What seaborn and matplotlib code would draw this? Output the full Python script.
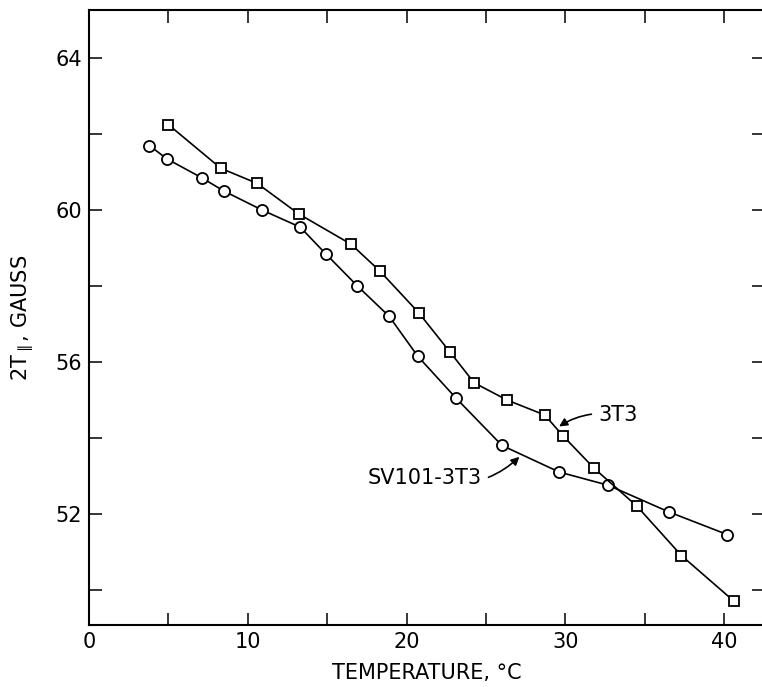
# Spin label splitting vs temperature, 3T3 and SV101-3T3 cells

import matplotlib.pyplot as plt
import seaborn as sns
import pandas as pd
from matplotlib.ticker import MultipleLocator

sns.set_style("ticks", {'axes.edgecolor': 'black', 'text.color': 'black',
                        'axes.labelcolor': 'black', 'xtick.color': 'black',
                        'ytick.color': 'black'})
plt.rcParams['font.family'] = ['DejaVu Sans']

# SV101-3T3 (circles)
sv_temp = [3.8, 4.9, 7.1, 8.5, 10.9, 13.3, 14.9, 16.9, 18.9, 20.7,
           23.1, 26.0, 29.6, 32.7, 36.5, 40.2]
sv_split = [61.7, 61.35, 60.85, 60.5, 60.0, 59.55, 58.85, 58.0, 57.2, 56.15,
            55.05, 53.8, 53.1, 52.75, 52.05, 51.45]

# 3T3 (squares)
t3_temp = [5.0, 8.3, 10.6, 13.2, 16.5, 18.3, 20.75, 22.75, 24.25, 26.3,
           28.7, 29.85, 31.8, 34.5, 37.3, 40.6]
t3_split = [62.25, 61.1, 60.7, 59.9, 59.1, 58.4, 57.3, 56.25, 55.45, 55.0,
            54.6, 54.05, 53.2, 52.2, 50.9, 49.7]

x_ticks = [0, 10, 20, 30, 40]
y_ticks = [52, 56, 60, 64]


def plot():
    sv = pd.DataFrame({'Temperature': sv_temp, 'Splitting': sv_split})
    t3 = pd.DataFrame({'Temperature': t3_temp, 'Splitting': t3_split})

    fig = plt.figure(figsize=(7.62, 6.87), dpi=100)
    ax = fig.add_axes([89 / 762, 1 - 625 / 687, 675 / 762, 615 / 687])

    sns.lineplot(data=sv, x='Temperature', y='Splitting', ax=ax, estimator=None,
                 sort=False, color='black', linewidth=1.2, marker='o',
                 markersize=8, markerfacecolor='white', markeredgecolor='black',
                 markeredgewidth=1.3)
    sns.lineplot(data=t3, x='Temperature', y='Splitting', ax=ax, estimator=None,
                 sort=False, color='black', linewidth=1.2, marker='s',
                 markersize=7.5, markerfacecolor='white', markeredgecolor='black',
                 markeredgewidth=1.3)

    ax.set_xlim(0, 42.5)
    ax.set_ylim(49.07, 65.27)
    ax.set_xticks(x_ticks)
    ax.set_yticks(y_ticks)
    ax.xaxis.set_minor_locator(MultipleLocator(5))
    ax.yaxis.set_minor_locator(MultipleLocator(2))
    ax.tick_params(which='both', direction='in', length=9, width=1.1,
                   top=True, right=True, labelsize=15, pad=5, colors='black')

    for spine in ax.spines.values():
        spine.set_linewidth(1.5)
        spine.set_color('black')

    ax.set_xlabel("TEMPERATURE, °C", fontsize=15, labelpad=8, color='black')
    ax.set_ylabel("2T$_{\\parallel}$, GAUSS", fontsize=15, labelpad=14, color='black')

    # curved arrow labels
    ax.annotate("3T3", xy=(29.6, 54.3), xytext=(32.1, 54.6), fontsize=15,
                ha='left', va='center', color='black',
                arrowprops=dict(arrowstyle='-|>', color='black', lw=1.2,
                                mutation_scale=12, shrinkA=3, shrinkB=0,
                                connectionstyle='arc3,rad=0.2'))
    ax.annotate("SV101-3T3", xy=(27.1, 53.5), xytext=(24.7, 52.95), fontsize=15,
                ha='right', va='center', color='black',
                arrowprops=dict(arrowstyle='-|>', color='black', lw=1.2,
                                mutation_scale=12, shrinkA=3, shrinkB=0,
                                connectionstyle='arc3,rad=0.3'))

    plt.savefig("out.png", dpi=100)


if __name__ == "__main__":
    plot()
